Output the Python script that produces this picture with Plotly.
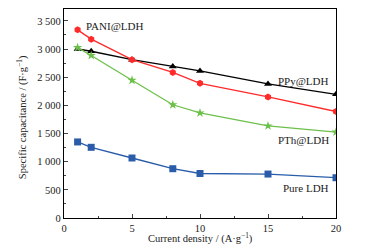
import plotly.graph_objects as go

current = [1, 2, 5, 8, 10, 15, 20]
pani = [3340, 3175, 2810, 2585, 2390, 2150, 1890]
ppy = [3000, 2960, 2810, 2690, 2610, 2380, 2195]
pth = [3025, 2885, 2445, 2010, 1865, 1635, 1525]
pure = [1350, 1255, 1065, 875, 790, 780, 715]

series = [
    ("PPy@LDH", ppy, "#000000", "triangle-up"),
    ("PANI@LDH", pani, "#ff2a2a", "hexagon"),
    ("PTh@LDH", pth, "#6cc04a", "star"),
    ("Pure LDH", pure, "#2a5caa", "square"),
]

fig = go.Figure()
for name, vals, col, sym in series:
    fig.add_trace(go.Scatter(x=current, y=vals, mode="lines+markers", name=name,
                             line=dict(color=col, width=1.3),
                             marker=dict(symbol=sym, size=7, color=col)))

font = "Liberation Serif, Times New Roman, serif"
labels = [
    ("PANI@LDH", 1.5, 3400, "left"),
    ("PPy@LDH", 19.6, 2440, "right"),
    ("PTh@LDH", 19.6, 1390, "right"),
    ("Pure LDH", 19.6, 535, "right"),
]
for t, x, y, xa in labels:
    fig.add_annotation(x=x, y=y, text=t, showarrow=False, xanchor=xa, yanchor="middle",
                       font=dict(family=font, size=11, color="#222"))

fig.add_annotation(x=0.5, y=-0.096, xref="paper", yref="paper", text="Current density / (A·g<sup>−1</sup>)",
                   showarrow=False, xanchor="center", yanchor="middle",
                   font=dict(family=font, size=10.5, color="#222"))
fig.add_annotation(x=-0.154, y=0.483, xref="paper", yref="paper", text="Specific capacitance / (F·g<sup>−1</sup>)",
                   showarrow=False, xanchor="center", yanchor="middle", textangle=-90,
                   font=dict(family=font, size=10.5, color="#222"))

# page body has an 8px default margin; size the figure to fit the 367x250 window
fig.update_layout(
    width=359, height=242, showlegend=False,
    margin=dict(l=56, r=31, t=1, b=32),
    paper_bgcolor="white", plot_bgcolor="white",
    font=dict(family=font, size=10.5, color="#222"),
    separators=". ",
)
fig.update_xaxes(range=[0, 20], tickvals=[0, 5, 10, 15, 20], ticks="inside", ticklen=4,
                 minor=dict(ticks="inside", ticklen=2, dtick=2.5),
                 showline=True, linecolor="black", linewidth=1.2, mirror=True,
                 showgrid=False, zeroline=False)
fig.update_yaxes(range=[0, 3710], tickvals=[0, 500, 1000, 1500, 2000, 2500, 3000, 3500],
                 separatethousands=True, ticks="inside", ticklen=4,
                 minor=dict(ticks="inside", ticklen=2, dtick=250),
                 showline=True, linecolor="black", linewidth=1.2, mirror=True,
                 showgrid=False, zeroline=False)

fig.write_html("out.html")
